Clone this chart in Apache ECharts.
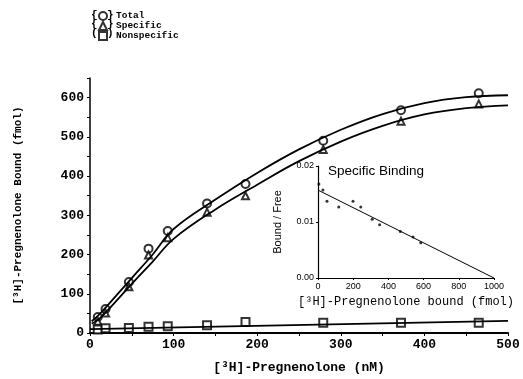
<!DOCTYPE html>
<html>
<head>
<meta charset="utf-8">
<script src="https://cdn.jsdelivr.net/npm/echarts@6/dist/echarts.min.js"></script>
<style>
  html, body { margin: 0; padding: 0; background: #fff; }
  #chart { width: 523px; height: 379px; }
</style>
</head>
<body>
<div id="chart"></div>
<script>
// main plot: free pregnenolone (nM) vs bound (fmol)
const concNM = [9.3, 18.6, 46.5, 70, 93, 140, 186, 279, 372, 465];
const totalBound = [41, 61, 130, 215, 260, 330, 380, 490, 568, 611];
const specificBound = [30, 51, 118, 199, 243, 308, 350, 468, 540, 584];
const nonspecificBound = [9, 12, 13, 16, 17, 20, 28, 26, 26, 26];

// fitted curves
const fitX = [2, 10, 20, 50, 75, 100, 150, 200, 250, 300, 350, 400, 450, 500];
const totalFit = [30, 45, 68, 140, 200, 265, 340, 408, 468, 518, 558, 586, 601, 606];
const specificFit = [24, 34, 55, 125, 182, 240, 315, 378, 438, 488, 528, 557, 573, 580];
const nonspecFitX = [0, 500];
const nonspecFit = [10, 31];

// inset: Scatchard plot
const insetBound = [5, 28, 51, 118, 199, 243, 308, 350, 468, 540, 584];
const insetRatio = [0.0168, 0.0157, 0.0137, 0.0127, 0.0137, 0.0127, 0.0105, 0.0095, 0.0083, 0.0073, 0.0063];
const insetLineX = [0, 1000];
const insetLineY = [0.0157, 0];

const legendNames = ['Total', 'Specific', 'Nonspecific'];

const zip = (xs, ys) => xs.map((x, i) => [x, ys[i]]);

const monoBold = { fontFamily: 'Liberation Mono', fontWeight: 'bold', color: '#000' };
const sans = { fontFamily: 'Liberation Sans', color: '#000' };
const braceFont = 'bold 11px "Liberation Mono"';

const chart = echarts.init(document.getElementById('chart'));

const option = {
  animation: false,
  backgroundColor: '#fff',
  legend: {
    data: legendNames,
    orient: 'vertical',
    left: 98,
    top: 11,
    padding: 0,
    itemWidth: 8,
    itemHeight: 8,
    itemGap: 0,
    textStyle: Object.assign({ fontSize: 9.5, lineHeight: 9, padding: [0, 0, 0, 4] }, monoBold)
  },
  grid: [
    { left: 90, right: 15, top: 78, bottom: 45 },
    { left: 318, right: 29, top: 166, bottom: 101 }
  ],
  xAxis: [
    {
      gridIndex: 0, type: 'value', min: 0, max: 500, interval: 50,
      name: '[\u00b3H]-Pregnenolone (nM)', nameLocation: 'middle', nameGap: 28,
      nameTextStyle: Object.assign({ fontSize: 13 }, monoBold),
      axisLine: { lineStyle: { color: '#000', width: 2 } },
      axisTick: { length: 3, lineStyle: { color: '#000' } },
      axisLabel: Object.assign({ fontSize: 13, margin: 5,
        formatter: v => (v % 100 === 0 ? String(v) : '') }, monoBold),
      splitLine: { show: false }
    },
    {
      gridIndex: 1, type: 'value', min: 0, max: 1000, interval: 200,
      name: '[\u00b3H]-Pregnenolone bound (fmol)', nameLocation: 'middle', nameGap: 18,
      nameTextStyle: { fontFamily: 'Liberation Mono', fontSize: 12, color: '#000' },
      axisLine: { lineStyle: { color: '#000', width: 1.2 } },
      axisTick: { length: 2, lineStyle: { color: '#000' } },
      axisLabel: Object.assign({ fontSize: 9, margin: 4, formatter: v => String(v) }, sans),
      splitLine: { show: false }
    }
  ],
  yAxis: [
    {
      gridIndex: 0, type: 'value', min: 0, max: 650, interval: 50,
      name: '[\u00b3H]-Pregnenolone Bound (fmol)', nameLocation: 'middle', nameGap: 66,
      nameTextStyle: Object.assign({ fontSize: 11 }, monoBold),
      axisLine: { lineStyle: { color: '#000', width: 1.5 } },
      axisTick: { length: 3, lineStyle: { color: '#000' } },
      axisLabel: Object.assign({ fontSize: 13, margin: 6,
        formatter: v => (v % 100 === 0 ? String(v) : '') }, monoBold),
      splitLine: { show: false }
    },
    {
      gridIndex: 1, type: 'value', min: 0, max: 0.02, interval: 0.01,
      name: 'Bound / Free', nameLocation: 'middle', nameGap: 35,
      nameTextStyle: Object.assign({ fontSize: 11 }, sans),
      axisLine: { lineStyle: { color: '#000', width: 1.2 } },
      axisTick: { length: 2, lineStyle: { color: '#000' } },
      axisLabel: Object.assign({ fontSize: 9, margin: 4, formatter: v => v.toFixed(2) }, sans),
      splitLine: { show: false }
    }
  ],
  graphic: [
    { type: 'text', left: 91, top: 10, style: { text: '{', font: braceFont, fill: '#000' } },
    { type: 'text', left: 91, top: 19, style: { text: '{', font: braceFont, fill: '#000' } },
    { type: 'text', left: 91, top: 28, style: { text: '(', font: braceFont, fill: '#000' } },
    { type: 'text', left: 107, top: 10, style: { text: '}', font: braceFont, fill: '#000' } },
    { type: 'text', left: 107, top: 19, style: { text: '}', font: braceFont, fill: '#000' } },
    { type: 'text', left: 107, top: 28, style: { text: ')', font: braceFont, fill: '#000' } },
    { type: 'text', left: 328, top: 164, style: { text: 'Specific Binding', font: '13.5px "Liberation Sans"', fill: '#000' } }
  ],
  series: [
    {
      name: 'Total fit', type: 'line', xAxisIndex: 0, yAxisIndex: 0,
      data: zip(fitX, totalFit), smooth: 0.4, showSymbol: false, silent: true,
      lineStyle: { color: '#000', width: 1.8 }
    },
    {
      name: 'Specific fit', type: 'line', xAxisIndex: 0, yAxisIndex: 0,
      data: zip(fitX, specificFit), smooth: 0.4, showSymbol: false, silent: true,
      lineStyle: { color: '#000', width: 1.8 }
    },
    {
      name: 'Nonspecific fit', type: 'line', xAxisIndex: 0, yAxisIndex: 0,
      data: zip(nonspecFitX, nonspecFit), showSymbol: false, silent: true,
      lineStyle: { color: '#000', width: 1.8 }
    },
    {
      name: 'Total', type: 'scatter', xAxisIndex: 0, yAxisIndex: 0,
      data: zip(concNM, totalBound), symbol: 'emptyCircle', symbolSize: 8,
      itemStyle: { color: '#000', borderColor: '#000', borderWidth: 1.6 }
    },
    {
      name: 'Specific', type: 'scatter', xAxisIndex: 0, yAxisIndex: 0,
      data: zip(concNM, specificBound), symbol: 'emptyTriangle', symbolSize: 7,
      itemStyle: { color: '#000', borderColor: '#000', borderWidth: 1.6 }
    },
    {
      name: 'Nonspecific', type: 'scatter', xAxisIndex: 0, yAxisIndex: 0,
      data: zip(concNM, nonspecificBound), symbol: 'emptyRect', symbolSize: 8,
      itemStyle: { color: '#000', borderColor: '#000', borderWidth: 1.6 }
    },
    {
      name: 'Scatchard fit', type: 'line', xAxisIndex: 1, yAxisIndex: 1,
      data: zip(insetLineX, insetLineY), showSymbol: false, silent: true,
      lineStyle: { color: '#000', width: 1 }
    },
    {
      name: 'Scatchard', type: 'scatter', xAxisIndex: 1, yAxisIndex: 1,
      data: zip(insetBound, insetRatio), symbol: 'circle', symbolSize: 3,
      itemStyle: { color: '#000' }
    }
  ]
};

chart.setOption(option);
</script>
</body>
</html>
